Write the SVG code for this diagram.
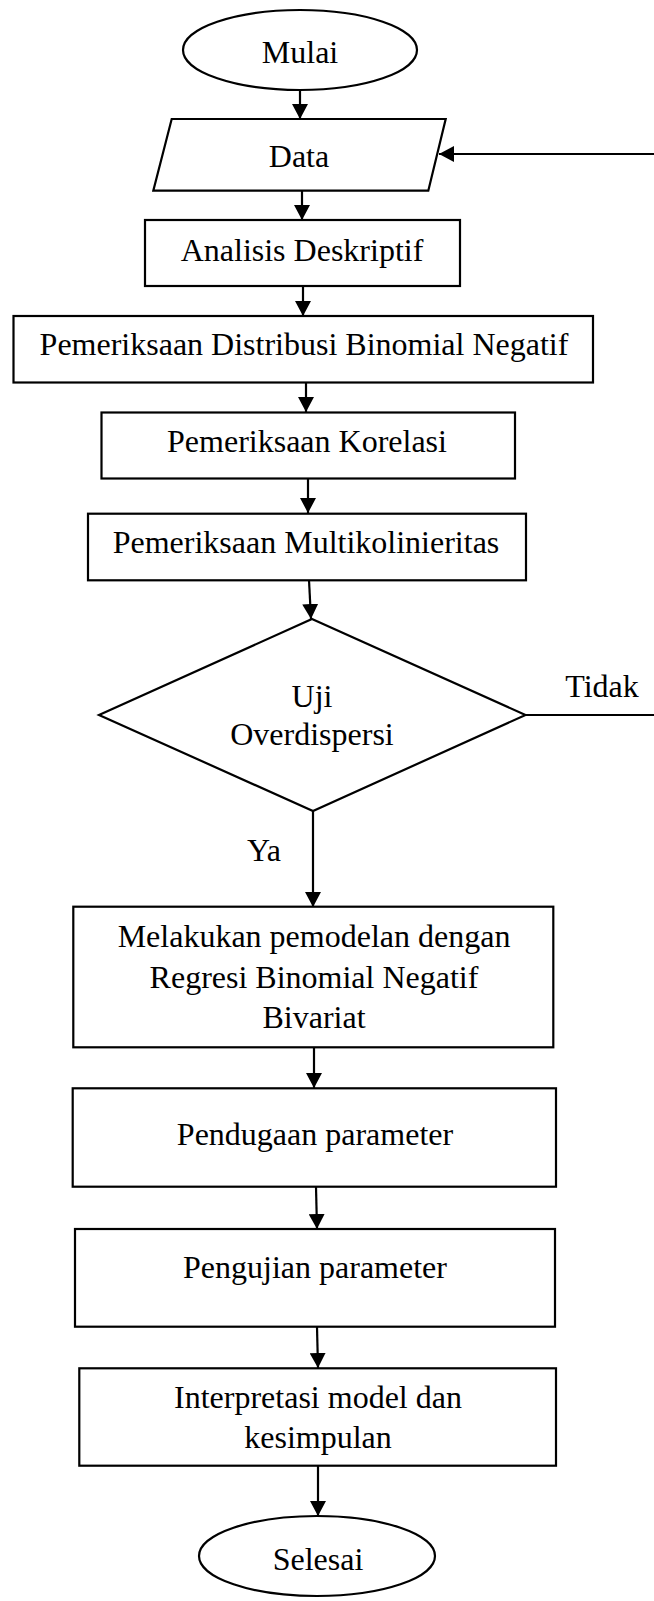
<svg xmlns="http://www.w3.org/2000/svg" width="654" height="1601" viewBox="0 0 654 1601">
<defs>
<style>
.s{fill:#fff;stroke:#000;stroke-width:2.2}
.t{font-family:"Liberation Serif","Times New Roman",serif;font-size:32px;fill:#000;text-anchor:middle}
.c{fill:none;stroke:#000;stroke-width:2.2}
</style>
<marker id="ah" viewBox="0 0 15 16" refX="15" refY="8" markerWidth="15" markerHeight="16" markerUnits="userSpaceOnUse" orient="auto">
<path d="M0,0 L15,8 L0,16 z" fill="#000"/>
</marker>
</defs>
<rect width="654" height="1601" fill="#fff"/>
<g id="connectors">
<line class="c" x1="300" y1="91" x2="300" y2="119" marker-end="url(#ah)"/>
<line class="c" x1="302" y1="191" x2="302" y2="220" marker-end="url(#ah)"/>
<line class="c" x1="303" y1="286" x2="303" y2="316" marker-end="url(#ah)"/>
<line class="c" x1="306" y1="383" x2="306" y2="412" marker-end="url(#ah)"/>
<line class="c" x1="308" y1="478" x2="308" y2="513" marker-end="url(#ah)"/>
<line class="c" x1="309" y1="580" x2="311" y2="619" marker-end="url(#ah)"/>
<line class="c" x1="313" y1="811" x2="313" y2="907" marker-end="url(#ah)"/>
<line class="c" x1="314" y1="1047" x2="314" y2="1088" marker-end="url(#ah)"/>
<line class="c" x1="316" y1="1187" x2="317" y2="1229" marker-end="url(#ah)"/>
<line class="c" x1="317" y1="1327" x2="318" y2="1368" marker-end="url(#ah)"/>
<line class="c" x1="318" y1="1466" x2="318" y2="1516" marker-end="url(#ah)"/>
<line class="c" x1="525" y1="715" x2="656" y2="715"/>
<line class="c" x1="656" y1="154" x2="439" y2="154" marker-end="url(#ah)"/>
<text class="t" x="602" y="697">Tidak</text>
<text class="t" x="264" y="861">Ya</text>
</g>
<g id="mulai">
<ellipse class="s" cx="300" cy="50" rx="117" ry="40"/>
<text class="t" x="300" y="63">Mulai</text>
</g>
<g id="data">
<polygon class="s" points="171.7,119 445.7,119 428.3,190.7 153.3,190.7"/>
<text class="t" x="299" y="167">Data</text>
</g>
<g id="analisis">
<rect class="s" x="145" y="220" width="315" height="66"/>
<text class="t" x="302" y="261">Analisis Deskriptif</text>
</g>
<g id="distribusi">
<rect class="s" x="13.5" y="316" width="579.5" height="66.5"/>
<text class="t" x="304" y="355">Pemeriksaan Distribusi Binomial Negatif</text>
</g>
<g id="korelasi">
<rect class="s" x="101.5" y="412.5" width="413.5" height="66"/>
<text class="t" x="307" y="452">Pemeriksaan Korelasi</text>
</g>
<g id="multikolinieritas">
<rect class="s" x="88" y="513.7" width="438" height="66.6"/>
<text class="t" x="306" y="553">Pemeriksaan Multikolinieritas</text>
</g>
<g id="overdispersi">
<polygon class="s" points="312,619 525.5,715 313,811 99,715"/>
<text class="t" x="312" y="707">Uji</text>
<text class="t" x="312" y="745">Overdispersi</text>
</g>
<g id="pemodelan">
<rect class="s" x="73.3" y="906.7" width="480" height="140.6"/>
<text class="t" x="314" y="947">Melakukan pemodelan dengan</text>
<text class="t" x="314" y="988">Regresi Binomial Negatif</text>
<text class="t" x="314" y="1028">Bivariat</text>
</g>
<g id="pendugaan">
<rect class="s" x="72.7" y="1088.3" width="483.3" height="98.4"/>
<text class="t" x="315" y="1145">Pendugaan parameter</text>
</g>
<g id="pengujian">
<rect class="s" x="75" y="1229" width="480" height="97.7"/>
<text class="t" x="315" y="1278">Pengujian parameter</text>
</g>
<g id="interpretasi">
<rect class="s" x="79.3" y="1368.3" width="476.7" height="97.4"/>
<text class="t" x="318" y="1408">Interpretasi model dan</text>
<text class="t" x="318" y="1448">kesimpulan</text>
</g>
<g id="selesai">
<ellipse class="s" cx="317" cy="1556" rx="118" ry="40"/>
<text class="t" x="318" y="1570">Selesai</text>
</g>
</svg>
